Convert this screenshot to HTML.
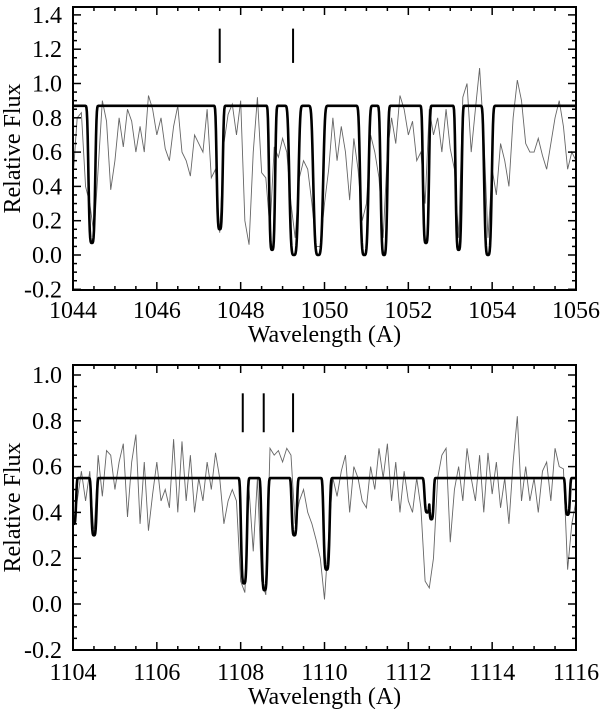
<!DOCTYPE html>
<html><head><meta charset="utf-8"><style>
html,body{margin:0;padding:0;background:#fff;}
svg{display:block;}
text{font-family:"Liberation Serif","DejaVu Serif",serif;}
</style></head><body>
<svg id="chart" width="600" height="709" viewBox="0 0 600 709" xmlns="http://www.w3.org/2000/svg"></svg>
<script>
// ---- Top panel data ----
const topWaveStart = 1044.0;
const topWaveStep = 0.1;
const topObsFlux = [0.45,0.8,0.83,0.4,0.3,0.12,0.5,0.9,0.78,0.38,0.55,0.8,0.63,0.85,0.78,0.6,0.75,0.6,0.93,0.85,0.7,0.8,0.62,0.55,0.75,0.87,0.6,0.55,0.46,0.7,0.65,0.6,0.85,0.45,0.5,0.13,0.65,0.82,0.88,0.7,0.9,0.2,0.06,0.6,0.92,0.48,0.45,0.15,0.63,0.57,0.68,0.6,0.3,0.1,0.45,0.55,0.5,0.3,0.05,0.05,0.3,0.5,0.8,0.55,0.75,0.6,0.32,0.68,0.5,0.2,0.3,0.7,0.6,0.45,0.1,0.6,0.8,0.65,0.93,0.85,0.7,0.78,0.55,0.6,0.3,0.85,0.7,0.8,0.6,0.85,0.62,0.5,0.1,0.92,1.0,0.6,0.85,1.09,0.7,0.1,0.5,0.35,0.65,0.55,0.4,0.8,1.02,0.9,0.65,0.6,0.6,0.68,0.58,0.5,0.65,0.8,0.9,0.75,0.5,0.6,0.55];
const topContinuum = 0.87;
const topLineCenters = [1044.45,1047.5,1048.75,1049.27,1049.85,1050.95,1051.42,1052.42,1053.2,1053.9];
const topLineMins = [0.07,0.15,0.03,0.0,0.0,0.0,0.0,0.07,0.03,0.0];
const topLineWidths = [0.09,0.08,0.08,0.12,0.13,0.11,0.09,0.08,0.08,0.1];
const topMarkers = [1047.5,1049.25];
const topXTicks = [1044,1046,1048,1050,1052,1054,1056];
const topYTicks = [-0.2,0.0,0.2,0.4,0.6,0.8,1.0,1.2,1.4];

// ---- Bottom panel data ----
const botWaveStart = 1104.0;
const botWaveStep = 0.1;
const botObsFlux = [0.35,0.45,0.58,0.45,0.58,0.3,0.65,0.47,0.67,0.65,0.5,0.62,0.7,0.38,0.62,0.74,0.35,0.62,0.32,0.48,0.62,0.45,0.5,0.42,0.72,0.4,0.71,0.45,0.65,0.4,0.55,0.45,0.62,0.5,0.66,0.55,0.35,0.45,0.5,0.45,0.1,0.05,0.5,0.23,0.55,0.1,0.04,0.68,0.65,0.67,0.62,0.68,0.65,0.35,0.45,0.5,0.4,0.35,0.28,0.2,0.02,0.3,0.55,0.47,0.58,0.65,0.4,0.6,0.55,0.45,0.42,0.6,0.5,0.68,0.55,0.7,0.45,0.62,0.4,0.58,0.45,0.4,0.55,0.42,0.1,0.07,0.2,0.55,0.65,0.68,0.27,0.5,0.6,0.45,0.68,0.55,0.45,0.65,0.4,0.66,0.48,0.62,0.42,0.55,0.35,0.62,0.82,0.45,0.6,0.45,0.55,0.4,0.58,0.62,0.45,0.68,0.6,0.59,0.15,0.35,0.45];
const botContinuum = 0.55;
const botLineCenters = [1104.02,1104.5,1108.08,1108.57,1109.28,1110.05,1112.45,1112.55,1115.8];
const botLineMins = [0.35,0.3,0.09,0.06,0.3,0.15,0.4,0.37,0.39];
const botLineWidths = [0.06,0.07,0.08,0.08,0.07,0.08,0.07,0.06,0.06];
const botMarkers = [1108.05,1108.55,1109.25];
const botXTicks = [1104,1106,1108,1110,1112,1114,1116];
const botYTicks = [-0.2,0.0,0.2,0.4,0.6,0.8,1.0];

const NS = "http://www.w3.org/2000/svg";
const svg = document.getElementById('chart');
const FONT = '"Liberation Serif","DejaVu Serif",serif';
function mk(tag, attrs, parent){
  const e = document.createElementNS(NS, tag);
  for (const k in attrs) e.setAttribute(k, attrs[k]);
  (parent||svg).appendChild(e);
  return e;
}
function fmt(v){ return v.toFixed(1).replace('-0.0','0.0'); }

function drawPanel(p){
  const g = mk('g', {});
  
  
  const X = w => p.x0 + (w - p.wMin) / (p.wMax - p.wMin) * (p.x1 - p.x0);
  const Y = f => p.yZero - f / 0.2 * p.yPer;
  let d = '';
  p.obs.forEach((f, i) => {
    const w = p.wStart + i * p.wStep;
    d += (i ? 'L' : 'M') + X(w).toFixed(2) + ',' + Y(f).toFixed(2);
  });
  const clip = mk('clipPath', {id: p.name + '-clip'}, g);
  mk('rect', {x: p.x0, y: p.yTop, width: p.x1 - p.x0, height: p.yBot - p.yTop}, clip);
  const obs = mk('path', {d: d, fill: 'none', stroke: '#666', 'stroke-width': 0.9, 'clip-path': 'url(#' + p.name + '-clip)'}, g);
  
  
  let md = '';
  const n = 1200;
  for (let i = 0; i <= n; i++){
    const w = p.wMin + (p.wMax - p.wMin) * i / n;
    let f = p.cont;
    p.lc.forEach((c, j) => {
      const t = (w - c) / p.lw[j];
      const prof = Math.exp(-Math.pow(t, 4));
      f = Math.min(f, p.cont - (p.cont - p.lm[j]) * prof);
    });
    md += (i ? 'L' : 'M') + X(w).toFixed(2) + ',' + Y(f).toFixed(2);
  }
  const model = mk('path', {d: md, fill: 'none', stroke: '#000', 'stroke-width': 2.6, 'stroke-linejoin': 'round', 'clip-path': 'url(#' + p.name + '-clip)'}, g);
  
  
  p.markers.forEach(m => {
    const l = mk('line', {x1: X(m), x2: X(m), y1: Y(p.mk[0]), y2: Y(p.mk[1]), stroke: '#000', 'stroke-width': 2}, g);
    
    
  });
  const fr = mk('rect', {x: p.x0, y: p.yTop, width: p.x1 - p.x0, height: p.yBot - p.yTop, fill: 'none', stroke: '#000', 'stroke-width': 2}, g);
  
  
  const tk = mk('g', {stroke: '#000', 'stroke-width': 1.5}, g);
  
  
  for (let w = p.wMin; w <= p.wMax + 1e-6; w += 0.5){
    const major = Math.abs(w / 2 - Math.round(w / 2)) < 1e-6;
    const L = major ? 8 : 4;
    mk('line', {x1: X(w), x2: X(w), y1: p.yBot, y2: p.yBot - L}, tk);
    mk('line', {x1: X(w), x2: X(w), y1: p.yTop, y2: p.yTop + L}, tk);
  }
  for (let k = -20; k <= 150; k += 5){
    const f = k / 100;
    const y = Y(f);
    if (y < p.yTop - 0.5 || y > p.yBot + 0.5) continue;
    const major = k % 20 === 0;
    const L = major ? 8 : 4;
    mk('line', {x1: p.x0, x2: p.x0 + L, y1: y, y2: y}, tk);
    mk('line', {x1: p.x1, x2: p.x1 - L, y1: y, y2: y}, tk);
  }
  p.xt.forEach(w => {
    const t = mk('text', {x: X(w), y: p.xLabY, 'font-size': 24, 'font-family': FONT, 'text-anchor': 'middle'}, g);
    t.textContent = w;
    
    
  });
  p.yt.forEach(f => {
    const t = mk('text', {x: 62, y: Y(f) + 8, 'font-size': 24, 'font-family': FONT, 'text-anchor': 'end'}, g);
    t.textContent = fmt(f);
    
    
  });
  const xt = mk('text', {x: (p.x0 + p.x1) / 2, y: p.xTitleY, 'font-size': 24, 'font-family': FONT, 'text-anchor': 'middle'}, g);
  xt.textContent = 'Wavelength (A)';
  
  
  const cy = (p.yTop + p.yBot) / 2;
  const yt = mk('text', {x: 20, y: cy, 'font-size': 24, 'font-family': FONT, 'text-anchor': 'middle', transform: 'rotate(-90 20 ' + cy + ')'}, g);
  yt.textContent = 'Relative Flux';
  
  
}

drawPanel({name: 'top-panel', x0: 73, x1: 576, yTop: 7, yBot: 290, yZero: 255, yPer: 34.3,
  wMin: 1044, wMax: 1056, wStart: topWaveStart, wStep: topWaveStep, obs: topObsFlux,
  cont: topContinuum, lc: topLineCenters, lm: topLineMins, lw: topLineWidths,
  markers: topMarkers, mk: [1.12, 1.32], xt: topXTicks, yt: topYTicks, xLabY: 318, xTitleY: 342});
drawPanel({name: 'bottom-panel', x0: 73, x1: 576, yTop: 365, yBot: 650, yZero: 604, yPer: 45.8,
  wMin: 1104, wMax: 1116, wStart: botWaveStart, wStep: botWaveStep, obs: botObsFlux,
  cont: botContinuum, lc: botLineCenters, lm: botLineMins, lw: botLineWidths,
  markers: botMarkers, mk: [0.75, 0.92], xt: botXTicks, yt: botYTicks, xLabY: 680, xTitleY: 704});
</script>
</body></html>
